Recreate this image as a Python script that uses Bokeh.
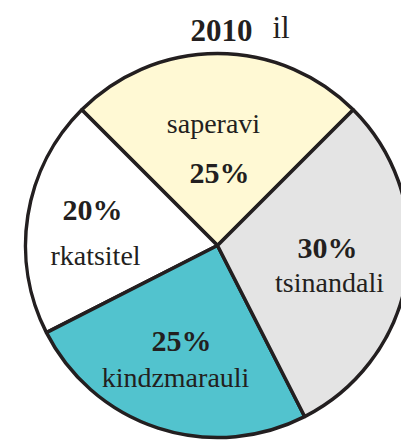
import math
from bokeh.plotting import figure
from bokeh.models import Range1d, ColumnDataSource
from bokeh.core.properties import value
from bokeh.embed import file_html
from bokeh.resources import INLINE

# ---- data ----
year = "2010"
year_suffix = "il"
categories = ["saperavi", "rkatsitel", "kindzmarauli", "tsinandali"]
percents = [25, 20, 25, 30]
colors = ["#FFF9D4", "#FFFFFF", "#52C3CE", "#E4E4E4"]
start_deg = 45.0

# ---- layout (screen-like coords: x right, y = -pixel) ----
W, H = 401, 447
cx, cy, R = 217, -245, 192
ink = "#231F20"
serif = "Liberation Serif"

p = figure(width=W, height=H, output_backend="svg", toolbar_location=None,
           x_range=Range1d(0, W), y_range=Range1d(-H, 0),
           min_border=0)
p.axis.visible = False
p.grid.visible = False
p.outline_line_color = None
p.background_fill_color = "white"
p.border_fill_color = "white"

starts, ends = [], []
a = start_deg
for v in percents:
    starts.append(math.radians(a))
    a += v / sum(percents) * 360.0
    ends.append(math.radians(a))

src = ColumnDataSource(dict(cat=categories, pct=percents, color=colors,
                            start=starts, end=ends))
p.wedge(x=cx, y=cy, radius=R, start_angle="start", end_angle="end",
        fill_color="color", line_color=ink, line_width=3.5, source=src)

# label placements (pixel coords of baselines/centers)
pct_pos = [(219, 172), (92, 209), (181, 340), (327, 247)]
name_pos = [(213, 123), (95, 255), (175, 377), (329, 282)]

pct_src = ColumnDataSource(dict(x=[q[0] for q in pct_pos], y=[-q[1] for q in pct_pos],
                                t=[f"{v}%" for v in percents]))
name_src = ColumnDataSource(dict(x=[q[0] for q in name_pos], y=[-q[1] for q in name_pos],
                                 t=categories))
p.text(x="x", y="y", text="t", source=pct_src, text_font=value(serif),
       text_font_style="bold", text_font_size="30px", text_color=ink,
       text_align="center", text_baseline="alphabetic")
p.text(x="x", y="y", text="t", source=name_src, text_font=value(serif),
       text_font_size="28px", text_color=ink,
       text_align="center", text_baseline="alphabetic")

# title
p.text(x=[221], y=[-30], text=[year], text_font=value(serif), text_font_style="bold",
       text_font_size="31px", text_color=ink, text_align="center",
       text_baseline="alphabetic")
p.text(x=[272], y=[-27], text=[year_suffix], text_font=value(serif),
       text_font_size="31px", text_color=ink, text_align="left",
       text_baseline="alphabetic")

open("out.html", "w").write(file_html(p, INLINE))
